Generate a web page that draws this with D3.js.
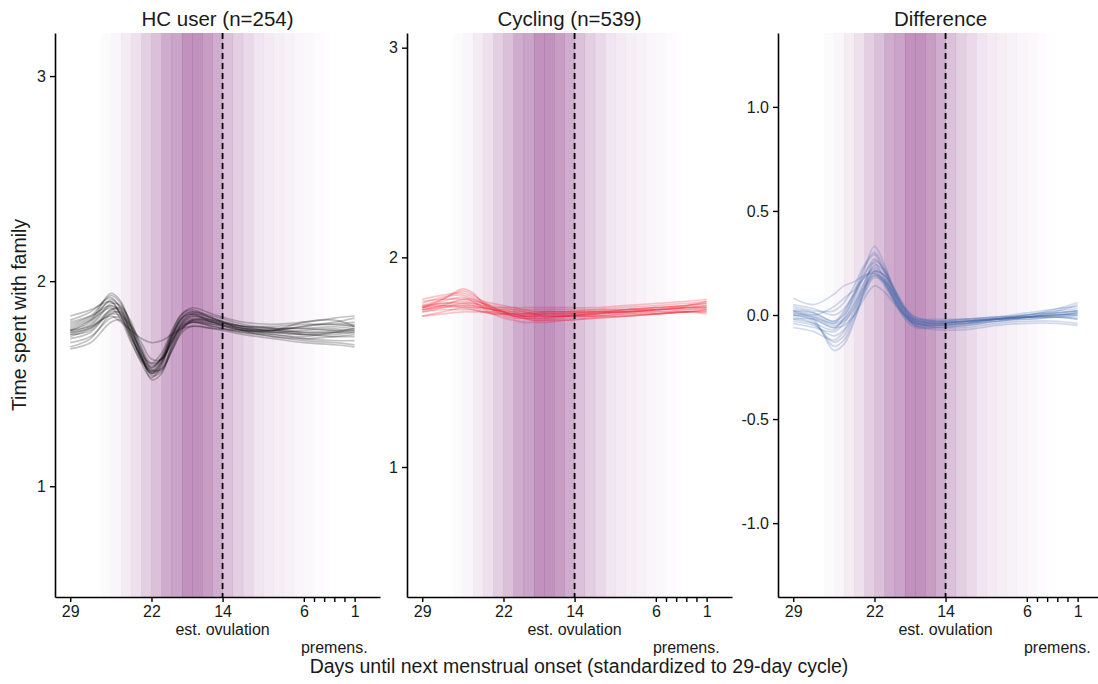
<!DOCTYPE html>
<html>
<head>
<meta charset="utf-8">
<script src="https://cdn.jsdelivr.net/npm/d3@7"></script>
<style>
  body { margin: 0; background: #fff; }
  svg { display: block; font-family: "Liberation Sans", Arial, Helvetica, sans-serif; }
</style>
</head>
<body>
<svg id="chart" width="1098" height="684"></svg>
<script>
// knot days for every curve (days until next onset)
const days = [29, 27, 25, 24, 23, 22, 21, 20, 19, 18, 17, 15, 12, 9, 6, 3, 1];

// HC users: posterior draws
const hcCurves = [
  [1.76, 1.80, 1.91, 1.87, 1.75, 1.63, 1.56, 1.61, 1.72, 1.80, 1.82, 1.80, 1.77, 1.76, 1.75, 1.75, 1.76],
  [1.74, 1.78, 1.88, 1.85, 1.74, 1.62, 1.55, 1.60, 1.71, 1.79, 1.81, 1.79, 1.76, 1.75, 1.74, 1.74, 1.75],
  [1.79, 1.83, 1.93, 1.89, 1.78, 1.66, 1.58, 1.62, 1.74, 1.83, 1.85, 1.82, 1.78, 1.77, 1.77, 1.78, 1.79],
  [1.72, 1.75, 1.85, 1.84, 1.76, 1.64, 1.54, 1.56, 1.67, 1.77, 1.80, 1.79, 1.77, 1.76, 1.74, 1.73, 1.73],
  [1.78, 1.82, 1.90, 1.83, 1.71, 1.60, 1.53, 1.59, 1.72, 1.82, 1.84, 1.80, 1.76, 1.75, 1.76, 1.77, 1.78],
  [1.70, 1.73, 1.82, 1.82, 1.75, 1.66, 1.59, 1.62, 1.71, 1.78, 1.80, 1.78, 1.75, 1.74, 1.72, 1.71, 1.71],
  [1.81, 1.85, 1.92, 1.86, 1.74, 1.62, 1.57, 1.63, 1.75, 1.84, 1.86, 1.82, 1.77, 1.76, 1.78, 1.80, 1.82],
  [1.75, 1.79, 1.89, 1.88, 1.79, 1.68, 1.60, 1.62, 1.70, 1.78, 1.81, 1.80, 1.78, 1.77, 1.77, 1.76, 1.76],
  [1.68, 1.72, 1.84, 1.85, 1.77, 1.65, 1.56, 1.58, 1.68, 1.77, 1.80, 1.78, 1.75, 1.73, 1.71, 1.70, 1.69],
  [1.77, 1.81, 1.87, 1.81, 1.70, 1.61, 1.56, 1.61, 1.73, 1.81, 1.83, 1.81, 1.78, 1.78, 1.79, 1.79, 1.80],
  [1.76, 1.78, 1.83, 1.80, 1.76, 1.72, 1.70, 1.71, 1.74, 1.77, 1.78, 1.77, 1.76, 1.76, 1.78, 1.79, 1.78],
  [1.73, 1.77, 1.86, 1.86, 1.78, 1.64, 1.52, 1.55, 1.69, 1.80, 1.84, 1.82, 1.76, 1.73, 1.72, 1.73, 1.74],
  [1.80, 1.83, 1.88, 1.84, 1.73, 1.63, 1.58, 1.63, 1.74, 1.82, 1.85, 1.83, 1.79, 1.77, 1.75, 1.76, 1.77],
  [1.74, 1.76, 1.86, 1.87, 1.80, 1.67, 1.57, 1.57, 1.66, 1.76, 1.81, 1.81, 1.78, 1.75, 1.74, 1.75, 1.75],
  [1.83, 1.86, 1.90, 1.83, 1.72, 1.64, 1.60, 1.65, 1.76, 1.84, 1.87, 1.84, 1.80, 1.79, 1.80, 1.82, 1.83],
  [1.67, 1.70, 1.80, 1.81, 1.73, 1.62, 1.55, 1.57, 1.66, 1.75, 1.78, 1.77, 1.74, 1.72, 1.70, 1.69, 1.68],
  [1.76, 1.81, 1.94, 1.90, 1.77, 1.63, 1.55, 1.60, 1.73, 1.82, 1.84, 1.81, 1.77, 1.74, 1.73, 1.75, 1.77],
  [1.75, 1.77, 1.84, 1.83, 1.78, 1.70, 1.62, 1.62, 1.70, 1.79, 1.83, 1.80, 1.76, 1.76, 1.80, 1.81, 1.78]
];

const cyclingCurves = [
  [1.76, 1.78, 1.78, 1.77, 1.76, 1.75, 1.74, 1.74, 1.74, 1.73, 1.73, 1.73, 1.73, 1.74, 1.74, 1.75, 1.76],
  [1.78, 1.81, 1.82, 1.80, 1.78, 1.76, 1.75, 1.74, 1.73, 1.73, 1.73, 1.73, 1.74, 1.75, 1.76, 1.77, 1.78],
  [1.74, 1.75, 1.75, 1.75, 1.74, 1.74, 1.73, 1.73, 1.72, 1.72, 1.72, 1.72, 1.72, 1.73, 1.73, 1.74, 1.74],
  [1.77, 1.80, 1.84, 1.82, 1.79, 1.76, 1.74, 1.72, 1.71, 1.71, 1.71, 1.72, 1.73, 1.74, 1.75, 1.76, 1.77],
  [1.75, 1.77, 1.77, 1.76, 1.76, 1.75, 1.75, 1.75, 1.75, 1.74, 1.74, 1.74, 1.74, 1.74, 1.75, 1.76, 1.76],
  [1.72, 1.73, 1.74, 1.74, 1.74, 1.73, 1.72, 1.71, 1.71, 1.70, 1.70, 1.71, 1.72, 1.73, 1.74, 1.74, 1.75],
  [1.79, 1.80, 1.80, 1.79, 1.78, 1.77, 1.76, 1.76, 1.75, 1.75, 1.75, 1.75, 1.75, 1.76, 1.77, 1.78, 1.79],
  [1.76, 1.79, 1.81, 1.79, 1.76, 1.74, 1.73, 1.72, 1.72, 1.72, 1.73, 1.73, 1.74, 1.74, 1.75, 1.75, 1.75],
  [1.74, 1.76, 1.78, 1.78, 1.77, 1.76, 1.76, 1.75, 1.74, 1.73, 1.72, 1.72, 1.72, 1.72, 1.73, 1.74, 1.74],
  [1.77, 1.78, 1.79, 1.78, 1.77, 1.75, 1.74, 1.73, 1.73, 1.73, 1.74, 1.74, 1.75, 1.75, 1.76, 1.77, 1.78],
  [1.75, 1.77, 1.80, 1.80, 1.78, 1.76, 1.74, 1.72, 1.71, 1.70, 1.70, 1.70, 1.71, 1.72, 1.73, 1.74, 1.75],
  [1.76, 1.77, 1.76, 1.75, 1.74, 1.73, 1.73, 1.73, 1.73, 1.74, 1.74, 1.74, 1.74, 1.75, 1.75, 1.76, 1.77],
  [1.80, 1.82, 1.83, 1.81, 1.79, 1.78, 1.77, 1.76, 1.76, 1.76, 1.76, 1.76, 1.76, 1.77, 1.78, 1.79, 1.80],
  [1.72, 1.74, 1.76, 1.76, 1.75, 1.73, 1.71, 1.70, 1.69, 1.69, 1.69, 1.70, 1.71, 1.72, 1.73, 1.74, 1.73],
  [1.76, 1.80, 1.85, 1.83, 1.78, 1.75, 1.73, 1.72, 1.72, 1.72, 1.72, 1.72, 1.73, 1.74, 1.75, 1.76, 1.76],
  [1.75, 1.76, 1.77, 1.77, 1.76, 1.75, 1.74, 1.73, 1.72, 1.71, 1.71, 1.72, 1.73, 1.75, 1.76, 1.77, 1.79]
];

const diffCurves = [
  [ 0.00, -0.02, -0.06, -0.02,  0.06,  0.16,  0.23,  0.18,  0.09,  0.01, -0.03, -0.04, -0.03, -0.02, -0.01,  0.00,  0.00],
  [ 0.03,  0.01, -0.03,  0.00,  0.08,  0.19,  0.27,  0.21,  0.10,  0.02, -0.02, -0.03, -0.02, -0.01,  0.00,  0.01,  0.02],
  [-0.03, -0.05, -0.10, -0.07,  0.02,  0.13,  0.20,  0.16,  0.08,  0.00, -0.05, -0.06, -0.05, -0.03, -0.02, -0.01, -0.02],
  [ 0.02,  0.00, -0.04,  0.01,  0.10,  0.20,  0.25,  0.17,  0.07, -0.01, -0.05, -0.05, -0.04, -0.02,  0.00,  0.02,  0.03],
  [-0.01, -0.04, -0.13, -0.10,  0.00,  0.12,  0.21,  0.19,  0.11,  0.03, -0.02, -0.04, -0.03, -0.02, -0.01, -0.01,  0.00],
  [ 0.05,  0.03,  0.00,  0.03,  0.10,  0.18,  0.22,  0.16,  0.07,  0.00, -0.03, -0.03, -0.02, -0.01,  0.01,  0.03,  0.04],
  [-0.04, -0.06, -0.08, -0.04,  0.04,  0.15,  0.24,  0.21,  0.12,  0.03, -0.03, -0.06, -0.06, -0.04, -0.03, -0.03, -0.04],
  [ 0.01, -0.01, -0.05, -0.03,  0.03,  0.13,  0.19,  0.14,  0.06, -0.01, -0.04, -0.04, -0.03, -0.02, -0.01,  0.00,  0.01],
  [ 0.00, -0.03, -0.15, -0.12, -0.02,  0.10,  0.18,  0.16,  0.10,  0.03, -0.01, -0.03, -0.03, -0.02, -0.01,  0.00,  0.00],
  [ 0.04,  0.02,  0.02,  0.06,  0.14,  0.24,  0.30,  0.22,  0.10,  0.01, -0.04, -0.05, -0.04, -0.02,  0.00,  0.02,  0.05],
  [-0.02, -0.02, -0.06, -0.05,  0.00,  0.08,  0.14,  0.11,  0.05,  0.00, -0.02, -0.02, -0.02, -0.01, -0.01, -0.01, -0.02],
  [ 0.02,  0.00,  0.04,  0.08,  0.12,  0.18,  0.21,  0.15,  0.06, -0.02, -0.06, -0.06, -0.05, -0.03, -0.01,  0.01,  0.02],
  [-0.02, -0.04, -0.07, -0.01,  0.09,  0.22,  0.33,  0.24,  0.11,  0.02, -0.03, -0.04, -0.03, -0.02, -0.02, -0.01, -0.01],
  [ 0.01, -0.01, -0.04, -0.02,  0.05,  0.14,  0.21,  0.19,  0.12,  0.04, -0.01, -0.03, -0.03, -0.02, -0.01,  0.00,  0.01],
  [ 0.08,  0.05,  0.10,  0.14,  0.16,  0.19,  0.20,  0.15,  0.07,  0.00, -0.04, -0.05, -0.04, -0.02,  0.00,  0.03,  0.06],
  [-0.06, -0.08, -0.12, -0.08,  0.00,  0.11,  0.19,  0.17,  0.09,  0.01, -0.05, -0.07, -0.07, -0.05, -0.04, -0.04, -0.05],
  [ 0.00, -0.02, -0.17, -0.14, -0.03,  0.12,  0.26,  0.22,  0.12,  0.03, -0.02, -0.04, -0.03, -0.02, -0.01,  0.00,  0.01],
  [ 0.02,  0.01, -0.03,  0.02,  0.11,  0.23,  0.29,  0.20,  0.08,  0.00, -0.04, -0.05, -0.04, -0.03, -0.01,  0.01,  0.02]
];

// fertile window shading: one band per day, spanning [day, day + 1]
const bandDays = [25, 24, 23, 22, 21, 20, 19, 18, 17, 16, 15, 14, 13, 12, 11, 10, 9, 8, 7, 6, 5, 4];
const bandWeights = [0.02, 0.045, 0.085, 0.13, 0.21, 0.28, 0.37, 0.40, 0.48, 0.48, 0.43, 0.36,
                     0.27, 0.21, 0.16, 0.115, 0.09, 0.075, 0.06, 0.045, 0.03, 0.015];

const panelTitles = ["HC user (n=254)", "Cycling (n=539)", "Difference"];
const panelColors = ["#000000", "#ee1122", "#3d68aa"];
const yDomains = [[0.46, 3.21], [0.38, 3.07], [-1.355, 1.355]];
const yTicks = [[1, 2, 3], [1, 2, 3], [-1, -0.5, 0, 0.5, 1]];
const yTickDigits = [0, 0, 1];

const xTickValues = [29, 21, 14, 6, 1];
const xTickLabels = ["29", "22", "14", "6", "1"];
const xMinorTicks = [5, 4, 3, 2];
const ovulationDay = 14;
const premensDay = 3;

// layout
const panelLeft = [55, 407, 778];
const panelW = 325, panelTop = 33, panelBottom = 597;
const panelH = panelBottom - panelTop;
const bandFill = "#7d1b77";
const textColor = "#1a1a1a";
const tickFont = "16px";

const svg = d3.select("#chart");

const x = d3.scaleLinear().domain([30.5, -1.5]).range([0, panelW]);

const allCurves = [hcCurves, cyclingCurves, diffCurves];

panelTitles.forEach((title, p) => {
    const g = svg.append("g").attr("transform", `translate(${ panelLeft[p] },${ panelTop })`);
    const y = d3.scaleLinear().domain(yDomains[p]).range([panelH, 0]);

    // shading bands
    g.selectAll("rect.band")
        .data(bandDays)
        .enter()
        .append("rect")
        .attr("class", "band")
        .attr("x", d => x(d + 1))
        .attr("width", d => x(d) - x(d + 1) + 0.3)
        .attr("y", 0)
        .attr("height", panelH)
        .attr("fill", bandFill)
        .attr("fill-opacity", (d, i) => bandWeights[i]);

    // curves
    const line = d3.line()
        .x((v, i) => x(days[i]))
        .y(v => y(v))
        .curve(d3.curveCatmullRom.alpha(0.5));

    g.selectAll("path.curve")
        .data(allCurves[p])
        .enter()
        .append("path")
        .attr("class", "curve")
        .attr("d", line)
        .attr("fill", "none")
        .attr("stroke", panelColors[p])
        .attr("stroke-width", 1.7)
        .attr("stroke-opacity", 0.24);

    // est. ovulation marker
    g.append("line")
        .attr("x1", x(ovulationDay)).attr("x2", x(ovulationDay))
        .attr("y1", 0).attr("y2", panelH)
        .attr("stroke", "#000")
        .attr("stroke-width", 1.8)
        .attr("stroke-dasharray", "6,4");

    // x axis
    const xAxis = g.append("g")
        .attr("transform", `translate(0,${ panelH })`)
        .call(d3.axisBottom(x)
            .tickValues(xTickValues)
            .tickFormat((d, i) => xTickLabels[i])
            .tickSize(5)
            .tickPadding(4)
            .tickSizeOuter(0));

    g.append("g")
        .attr("transform", `translate(0,${ panelH })`)
        .call(d3.axisBottom(x).tickValues(xMinorTicks).tickFormat("").tickSize(5).tickSizeOuter(0))
        .select(".domain").remove();

    g.append("text")
        .attr("x", x(ovulationDay))
        .attr("y", panelH + 38)
        .attr("text-anchor", "middle")
        .attr("font-size", tickFont)
        .attr("fill", textColor)
        .text("est. ovulation");

    g.append("text")
        .attr("x", x(premensDay))
        .attr("y", panelH + 56)
        .attr("text-anchor", "middle")
        .attr("font-size", tickFont)
        .attr("fill", textColor)
        .text("premens.");

    // y axis
    const yAxis = g.append("g")
        .call(d3.axisLeft(y)
            .tickValues(yTicks[p])
            .tickFormat(d => d.toFixed(yTickDigits[p]))
            .tickSize(5)
            .tickPadding(4)
            .tickSizeOuter(0));

    [xAxis, yAxis].forEach(a => {
        a.selectAll("text").attr("font-size", tickFont).attr("fill", textColor).attr("font-family", null);
        a.select(".domain").attr("stroke-width", 1.6);
    });
    g.selectAll(".tick line").attr("stroke-width", 1.4);

    // panel title
    g.append("text")
        .attr("x", panelW / 2)
        .attr("y", -7)
        .attr("text-anchor", "middle")
        .attr("font-size", "20.5px")
        .attr("fill", textColor)
        .text(title);
});

// shared axis titles
svg.append("text")
    .attr("transform", `translate(26,${ (panelTop + panelBottom) / 2 }) rotate(-90)`)
    .attr("text-anchor", "middle")
    .attr("font-size", "19.5px")
    .attr("fill", textColor)
    .text("Time spent with family");

svg.append("text")
    .attr("x", (panelLeft[0] + panelLeft[2] + panelW) / 2)
    .attr("y", 673)
    .attr("text-anchor", "middle")
    .attr("font-size", "19.5px")
    .attr("fill", textColor)
    .text("Days until next menstrual onset (standardized to 29-day cycle)");
</script>
</body>
</html>
